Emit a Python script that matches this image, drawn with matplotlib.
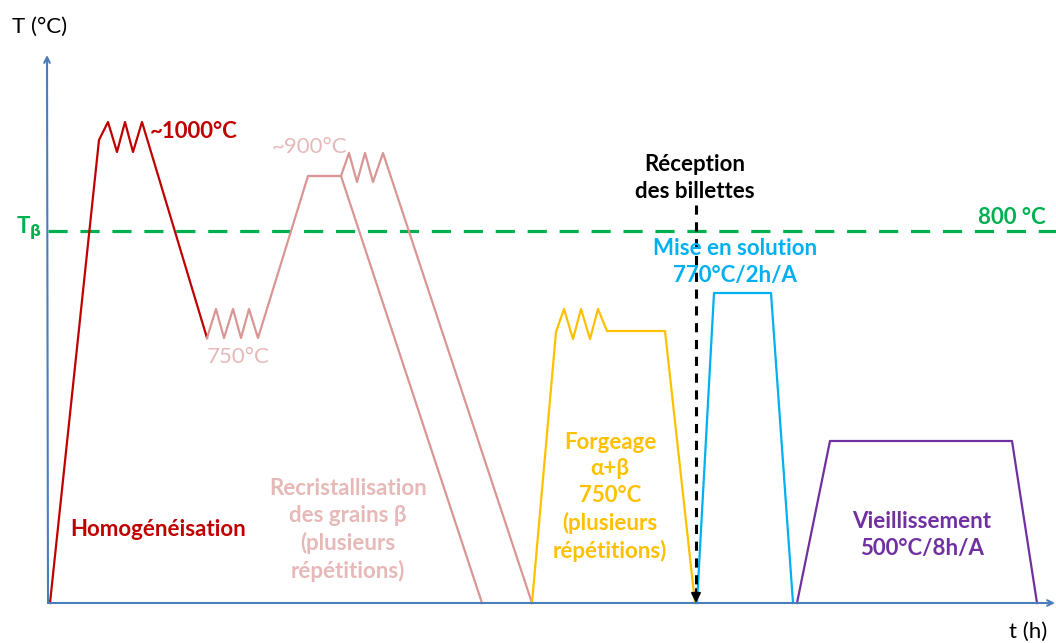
import matplotlib.pyplot as plt

# schematic time / temperature units (origin at the axes corner)
homog_t = [2, 51, 60, 69, 77, 85, 94, 159]
homog_T = [0, 463, 481, 451, 481, 451, 481, 265]

recrist1_t = [159, 168, 176, 185, 193, 201, 210, 260, 293, 434]
recrist1_T = [265, 294, 265, 294, 265, 294, 265, 427, 427, 0]
recrist2_t = [293, 301, 309, 317, 325, 335, 484]
recrist2_T = [427, 450, 421, 450, 421, 450, 0]

forge_t = [484, 508, 516, 525, 533, 542, 550, 559, 617, 647]
forge_T = [0, 271, 294, 264, 294, 264, 294, 272, 272, 0]

sol_t = [649, 666, 723, 745]
sol_T = [0, 310, 310, 0]

age_t = [749, 782, 964, 989]
age_T = [0, 162, 162, 0]

T_beta = 372
t_reception = 648
reception_top = 398

red = "#C00000"
pink_line = "#D99694"
pink_text = "#E6B9B8"
yellow = "#FFC000"
blue = "#00B0F0"
purple = "#7030A0"
green = "#00B050"
axis_col = "#4A7EBB"

plt.rcParams['font.family'] = ['Lato', 'DejaVu Sans']

fig = plt.figure(figsize=(10.56, 6.43), dpi=100)
ax = fig.add_axes([0, 0, 1, 1])
ax.set_xlim(-48, 1008)
ax.set_ylim(-40, 603)
ax.axis('off')

# axes arrows
ax.annotate('', xy=(-1, 548), xytext=(0, 0),
            arrowprops=dict(arrowstyle='->', color=axis_col, lw=1.5, shrinkA=0, shrinkB=0))
ax.annotate('', xy=(1007, 0), xytext=(0, 0),
            arrowprops=dict(arrowstyle='->', color=axis_col, lw=1.5, shrinkA=0, shrinkB=0))

# beta transus
ax.plot([0, 1008], [T_beta, T_beta], color=green, lw=2.3, dashes=(6, 4))

lw = 1.6
ax.plot(homog_t, homog_T, color=red, lw=lw)
ax.plot(recrist1_t, recrist1_T, color=pink_line, lw=lw)
ax.plot(recrist2_t, recrist2_T, color=pink_line, lw=lw)
ax.plot(forge_t, forge_T, color=yellow, lw=lw)
ax.plot(sol_t, sol_T, color=blue, lw=lw)
ax.plot(age_t, age_T, color=purple, lw=lw)

# reception arrow
ax.plot([t_reception, t_reception], [reception_top, 12], color='black', lw=2.2, dashes=(3, 2.5))
ax.annotate('', xy=(t_reception, 0), xytext=(t_reception, 14),
            arrowprops=dict(arrowstyle='-|>', color='black', lw=1.5,
                            mutation_scale=14, shrinkA=0, shrinkB=0))

fs = 16
ls = 1.33
ax.text(-36, 576, "T (°C)", fontsize=fs, ha='left', va='center')
ax.text(980, -29, "t (h)", fontsize=fs, ha='center', va='center')
ax.text(-19, 375, "T$_\\mathbf{\\beta}$", fontsize=fs, color=green, fontweight='bold',
        ha='center', va='center')
ax.text(964, 386, "800 °C", fontsize=fs, color=green, fontweight='bold', ha='center', va='center')

ax.text(102, 471, "~1000°C", fontsize=fs, color=red, fontweight='bold', ha='left', va='center')
ax.text(224, 456, "~900°C", fontsize=fs, color=pink_text, ha='left', va='center')
ax.text(190, 246, "750°C", fontsize=fs, color=pink_text, ha='center', va='center')

ax.text(110, 74, "Homogénéisation", fontsize=fs, color=red, fontweight='bold',
        ha='center', va='center')
ax.text(300, 73, "Recristallisation\ndes grains β\n(plusieurs\nrépétitions)", fontsize=fs,
        color=pink_text, fontweight='bold', ha='center', va='center', linespacing=ls)
ax.text(562, 106, "Forgeage\nα+β\n750°C\n(plusieurs\nrépétitions)", fontsize=fs,
        color=yellow, fontweight='bold', ha='center', va='center', linespacing=ls)
ax.text(647, 425, "Réception\ndes billettes", fontsize=fs, color='black', fontweight='bold',
        ha='center', va='center', linespacing=ls)
ax.text(687, 341, "Mise en solution\n770°C/2h/A", fontsize=fs, color=blue, fontweight='bold',
        ha='center', va='center', linespacing=ls)
ax.text(874, 68, "Vieillissement\n500°C/8h/A", fontsize=fs, color=purple, fontweight='bold',
        ha='center', va='center', linespacing=ls)

fig.savefig("out.png", dpi=100)
